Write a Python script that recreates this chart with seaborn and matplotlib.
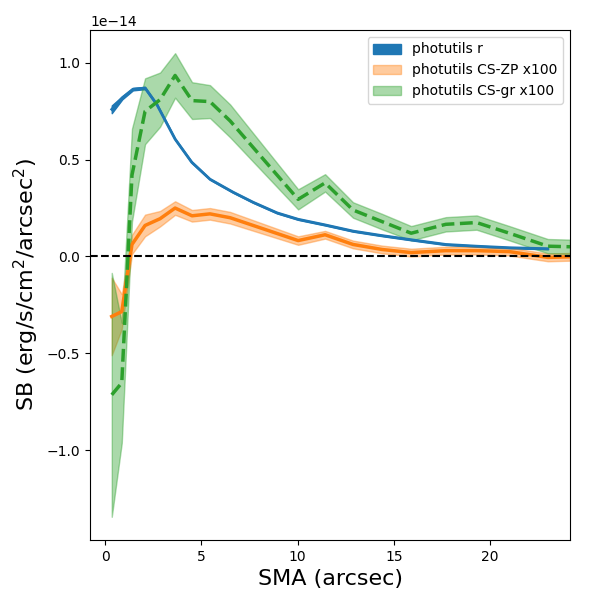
import numpy as np
import matplotlib
matplotlib.use('Agg')
import matplotlib.pyplot as plt
import seaborn as sns

# surface brightness profiles (units of 1e-14 erg/s/cm2/arcsec2)
sma_r = [0.35, 0.9, 1.45, 2.08, 2.69, 3.64, 4.50, 5.45, 6.65, 7.69, 8.94,
         10.03, 11.43, 12.88, 14.3, 16.0, 17.7, 19.3, 21.0, 23.0]
sb_r = [0.76, 0.82, 0.864, 0.87, 0.785, 0.606, 0.487, 0.399, 0.332, 0.280, 0.225,
        0.192, 0.163, 0.131, 0.109, 0.085, 0.062, 0.053, 0.045, 0.040]
err_r = [0.02, 0.008, 0.006, 0.006, 0.005, 0.004, 0.004, 0.003, 0.003, 0.003, 0.003,
         0.003, 0.003, 0.003, 0.003, 0.003, 0.003, 0.003, 0.003, 0.003]

sma_cs = [0.35, 0.87, 1.40, 2.08, 2.86, 3.64, 4.52, 5.45, 6.5, 10.03, 11.43,
          12.88, 14.39, 15.9, 17.7, 19.3, 21.0, 23.0, 24.15]
sb_zp = [-0.31, -0.285, 0.062, 0.16, 0.195, 0.25, 0.21, 0.22, 0.20, 0.082, 0.112,
         0.062, 0.036, 0.02, 0.03, 0.03, 0.025, -0.005, -0.002]
err_zp = [0.2, 0.09, 0.05, 0.056, 0.04, 0.035, 0.03, 0.03, 0.03, 0.022, 0.02,
          0.02, 0.02, 0.02, 0.02, 0.02, 0.02, 0.02, 0.02]
sb_gr = [-0.715, -0.653, 0.42, 0.75, 0.81, 0.935, 0.805, 0.80, 0.70, 0.295, 0.38,
         0.24, 0.18, 0.12, 0.166, 0.175, 0.12, 0.053, 0.05]
err_gr = [0.63, 0.31, 0.24, 0.17, 0.14, 0.115, 0.095, 0.085, 0.085, 0.052, 0.045,
          0.04, 0.04, 0.037, 0.037, 0.037, 0.037, 0.037, 0.037]

scale = 1e-14
sma_r = np.array(sma_r)
sma_cs = np.array(sma_cs)
r = np.array(sb_r) * scale
er = np.array(err_r) * scale
zp = np.array(sb_zp) * scale
ezp = np.array(err_zp) * scale
gr = np.array(sb_gr) * scale
egr = np.array(err_gr) * scale

fig, ax = plt.subplots(figsize=(6, 6), dpi=100)

ax.fill_between(sma_r, r - er, r + er, color='C0', label='photutils r')
sns.lineplot(x=sma_r, y=r, color='C0', lw=2, ax=ax, sort=False)

ax.fill_between(sma_cs, zp - ezp, zp + ezp, color='C1', alpha=0.4,
                label='photutils CS-ZP x100')
sns.lineplot(x=sma_cs, y=zp, color='C1', lw=2.5, ax=ax, sort=False)

ax.fill_between(sma_cs, gr - egr, gr + egr, color='C2', alpha=0.4,
                label='photutils CS-gr x100')
sns.lineplot(x=sma_cs, y=gr, color='C2', lw=2.5, linestyle='--', ax=ax, sort=False)

ax.axhline(0, color='k', ls='--', lw=1.5)

ax.set_xlim(-0.78, 24.15)
ax.set_xlabel('SMA (arcsec)', fontsize=16)
ax.set_ylabel('SB (erg/s/cm$^2$/arcsec$^2$)', fontsize=16)
ax.legend(loc='upper right')

plt.subplots_adjust(left=0.15, right=0.95, bottom=0.1, top=0.95)
plt.savefig('out.png')
